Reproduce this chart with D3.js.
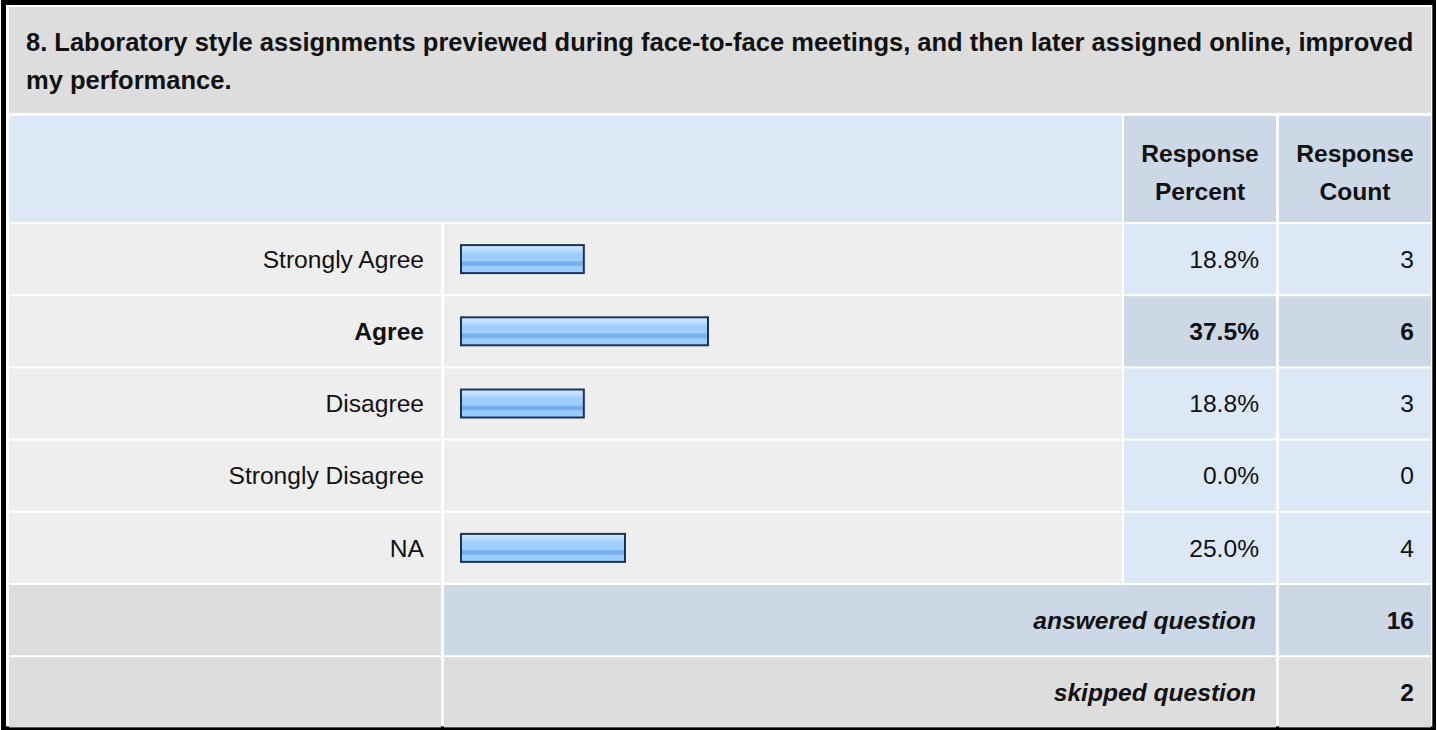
<!DOCTYPE html>
<html>
<head>
<meta charset="utf-8">
<script src="https://cdn.jsdelivr.net/npm/d3@7"></script>
<style>
  html, body { margin: 0; padding: 0; background: #ffffff; }
  svg { display: block; }
  text { font-family: "Liberation Sans", Arial, Helvetica, sans-serif; fill: #111111; }
</style>
</head>
<body>
<svg id="chart" width="1437" height="730"></svg>
<script>
// ---- data ----
const titleLines = [
  "8. Laboratory style assignments previewed during face-to-face meetings, and then later assigned online, improved",
  "my performance."
];
const categories = ["Strongly Agree", "Agree", "Disagree", "Strongly Disagree", "NA"];
const percents = [18.8, 37.5, 18.8, 0.0, 25.0];
const counts = [3, 6, 3, 0, 4];
const headerPercent = ["Response", "Percent"];
const headerCount = ["Response", "Count"];
const summaryLabels = ["answered question", "skipped question"];
const summaryValues = [16, 2];

// ---- layout ----
const W = 1437, H = 730;
const FS = 24.6;
const TFS = 25.5;
const col = {
  labelX0: 9, labelX1: 441,
  barX0: 444, barX1: 1122,
  pctX0: 1124, pctX1: 1276,
  cntX0: 1279, cntX1: 1431
};
const C = {
  title: "#dddddd",
  headBlue: "#dce8f5",
  headDark: "#ccd8e6",
  rowGray: "#eeeeee",
  cellBlue: "#dce8f5",
  cellDark: "#ccd8e6",
  sumGray: "#dddddd",
  barStroke: "#1c3358"
};

const svg = d3.select("#chart");

// gradient for bars
const defs = svg.append("defs");
const grad = defs.append("linearGradient").attr("id", "barGrad")
  .attr("x1", 0).attr("y1", 0).attr("x2", 0).attr("y2", 1);
[
  [0.00, "#cfe6ff"], [0.14, "#c4e1ff"],
  [0.20, "#b3d9ff"], [0.30, "#a4d1fe"],
  [0.36, "#9dcdfd"], [0.56, "#9dcdfd"],
  [0.60, "#77afee"], [0.72, "#77afee"],
  [0.76, "#99cbff"], [1.00, "#9acbff"]
].forEach(([o, c]) => grad.append("stop").attr("offset", o).attr("stop-color", c));

// background + outer frame
svg.append("rect").attr("x", 0).attr("y", 0).attr("width", W).attr("height", H).attr("fill", "#ffffff");
svg.append("rect").attr("x", 1).attr("y", 0).attr("width", 1435).attr("height", 730).attr("fill", "#000000");
svg.append("rect").attr("x", 6).attr("y", 5).attr("width", 1427).attr("height", 722).attr("fill", "#555555");
svg.append("rect").attr("x", 6).attr("y", 5).attr("width", 1426).attr("height", 721).attr("fill", "#ffffff");

// title
svg.append("rect").attr("x", col.labelX0).attr("y", 7)
  .attr("width", col.cntX1 - col.labelX0).attr("height", 106).attr("fill", C.title);
svg.append("g").selectAll("text").data(titleLines).join("text")
  .attr("x", 26).attr("y", (d, i) => 51 + i * 37.5)
  .attr("font-size", TFS).attr("font-weight", "bold")
  .text(d => d);

// header
const headTop = 116, headH = 106;
svg.append("rect").attr("x", col.labelX0).attr("y", headTop)
  .attr("width", col.barX1 - col.labelX0).attr("height", headH).attr("fill", C.headBlue);
svg.append("rect").attr("x", col.pctX0).attr("y", headTop)
  .attr("width", col.pctX1 - col.pctX0).attr("height", headH).attr("fill", C.headDark);
svg.append("rect").attr("x", col.cntX0).attr("y", headTop)
  .attr("width", col.cntX1 - col.cntX0).attr("height", headH).attr("fill", C.headDark);
[[headerPercent, (col.pctX0 + col.pctX1) / 2], [headerCount, (col.cntX0 + col.cntX1) / 2]]
  .forEach(([lines, cx]) => {
    svg.append("g").selectAll("text").data(lines).join("text")
      .attr("x", cx).attr("y", (d, i) => headTop + 46 + i * 37.5)
      .attr("text-anchor", "middle").attr("font-size", FS).attr("font-weight", "bold")
      .text(d => d);
  });

// row scale (data rows + summary rows)
const rowKeys = categories.concat(summaryLabels);
const step = 72.2, gap = 2;
const y = d3.scaleBand()
  .domain(rowKeys)
  .range([224, 224 + step * rowKeys.length - gap])
  .paddingInner(gap / step)
  .paddingOuter(0);

// bar scale
const x = d3.scaleLinear().domain([0, 100]).range([460, 460 + 664]);

const data = categories.map((c, i) => ({ cat: c, pct: percents[i], cnt: counts[i] }));
const maxPct = d3.max(percents);

const rows = svg.append("g").selectAll("g").data(data).join("g")
  .attr("transform", d => `translate(0,${y(d.cat)})`);
const bh = y.bandwidth();

rows.append("rect").attr("x", col.labelX0).attr("width", col.labelX1 - col.labelX0)
  .attr("height", bh).attr("fill", C.rowGray);
rows.append("rect").attr("x", col.barX0).attr("width", col.barX1 - col.barX0)
  .attr("height", bh).attr("fill", C.rowGray);
rows.append("rect").attr("x", col.pctX0).attr("width", col.pctX1 - col.pctX0)
  .attr("height", bh).attr("fill", d => d.pct === maxPct ? C.cellDark : C.cellBlue);
rows.append("rect").attr("x", col.cntX0).attr("width", col.cntX1 - col.cntX0)
  .attr("height", bh).attr("fill", d => d.pct === maxPct ? C.cellDark : C.cellBlue);

const ty = bh / 2 + 8.8;
rows.append("text").attr("x", col.labelX1 - 17).attr("y", ty)
  .attr("text-anchor", "end").attr("font-size", FS)
  .attr("font-weight", d => d.pct === maxPct ? "bold" : "normal")
  .text(d => d.cat);
rows.append("text").attr("x", col.pctX1 - 17).attr("y", ty)
  .attr("text-anchor", "end").attr("font-size", FS)
  .attr("font-weight", d => d.pct === maxPct ? "bold" : "normal")
  .text(d => d3.format(".1f")(d.pct) + "%");
rows.append("text").attr("x", col.cntX1 - 17).attr("y", ty)
  .attr("text-anchor", "end").attr("font-size", FS)
  .attr("font-weight", d => d.pct === maxPct ? "bold" : "normal")
  .text(d => d.cnt);

// bars
rows.filter(d => d.pct > 0).append("rect")
  .attr("x", x(0) + 1)
  .attr("y", bh / 2 - 14)
  .attr("width", d => x(d.pct) - x(0) - 2)
  .attr("height", 28)
  .attr("fill", "url(#barGrad)")
  .attr("stroke", C.barStroke).attr("stroke-width", 2);

// summary rows
const sum = svg.append("g").selectAll("g")
  .data(summaryLabels.map((l, i) => ({ label: l, val: summaryValues[i], i })))
  .join("g").attr("transform", d => `translate(0,${y(d.label)})`);
sum.append("rect").attr("x", col.labelX0).attr("width", col.labelX1 - col.labelX0)
  .attr("height", bh).attr("fill", C.sumGray);
sum.append("rect").attr("x", col.barX0).attr("width", col.pctX1 - col.barX0)
  .attr("height", bh).attr("fill", d => d.i === 0 ? C.cellDark : C.sumGray);
sum.append("rect").attr("x", col.cntX0).attr("width", col.cntX1 - col.cntX0)
  .attr("height", bh).attr("fill", d => d.i === 0 ? C.cellDark : C.sumGray);
sum.append("text").attr("x", col.pctX1 - 20).attr("y", ty)
  .attr("text-anchor", "end").attr("font-size", FS)
  .attr("font-weight", "bold").attr("font-style", "italic")
  .text(d => d.label);
sum.append("text").attr("x", col.cntX1 - 17).attr("y", ty)
  .attr("text-anchor", "end").attr("font-size", FS).attr("font-weight", "bold")
  .text(d => d.val);
</script>
</body>
</html>
